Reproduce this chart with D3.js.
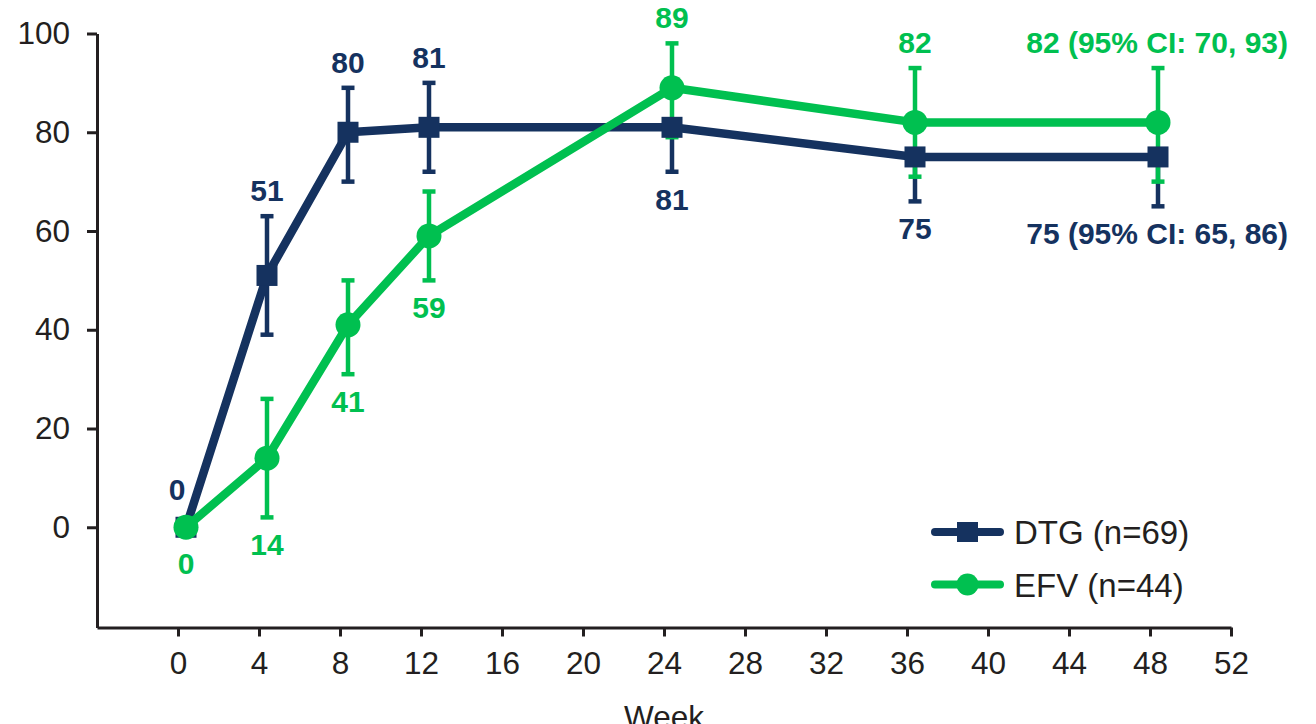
<!DOCTYPE html>
<html>
<head>
<meta charset="utf-8">
<script src="https://cdn.jsdelivr.net/npm/d3@7"></script>
<style>
  html, body { margin: 0; padding: 0; background: #fff; }
  svg { display: block; font-family: "Liberation Sans", Arial, sans-serif; }
</style>
</head>
<body>
<svg id="chart" width="1316" height="724"></svg>
<script>
// Study visits (weeks)
const weeks = [0, 4, 8, 12, 24, 36, 48];

// DTG arm: percentage with response and 95% CI bounds
const dtgValues = [0, 51, 80, 81, 81, 75, 75];
const dtgLow    = [0, 39, 70, 72, 72, 66, 65];
const dtgHigh   = [0, 63, 89, 90, 90, 86, 86];

// EFV arm
const efvValues = [0, 14, 41, 59, 89, 82, 82];
const efvLow    = [0,  2, 31, 50, 79, 71, 70];
const efvHigh   = [0, 26, 50, 68, 98, 93, 93];

// Which parts of each error bar are drawn (the overlapping halves are left out)
const dtgBarParts = ["both", "both", "both", "both", "low", "low", "low"];
const efvBarParts = ["both", "both", "both", "both", "both", "both", "both"];

// Which side of the error bar each value label sits on
const dtgLabelSide = ["above", "above", "above", "above", "below", "below", "ci-below"];
const efvLabelSide = ["below", "below", "below", "below", "above", "above", "ci-above"];

const seriesNames = ["DTG (n=69)", "EFV (n=44)"];
const xTicks = [0, 4, 8, 12, 16, 20, 24, 28, 32, 36, 40, 44, 48, 52];
const yTicks = [0, 20, 40, 60, 80, 100];
const xTitle = "Week";

const NAVY = "#15325f";
const GREEN = "#00c050";
const INK = "#231f20";

const svg = d3.select("#chart");

const x = d3.scaleLinear().domain([-4, 52]).range([97, 1231]);
const y = d3.scaleLinear().domain([-20.3, 100]).range([627.5, 33.5]);
const shift = 8; // markers sit a little right of the tick positions
const px = w => x(w) + shift;

// Axes
const yAxis = svg.append("g")
  .attr("transform", `translate(${x(-4)},0)`)
  .call(d3.axisLeft(y).tickValues(yTicks).tickSize(10).tickSizeOuter(0).tickPadding(17));
const xAxis = svg.append("g")
  .attr("transform", `translate(0,${y(-20.3)})`)
  .call(d3.axisBottom(x).tickValues(xTicks).tickSize(9).tickSizeOuter(0).tickPadding(15));

[yAxis, xAxis].forEach(a => {
  a.select(".domain").attr("stroke", INK).attr("stroke-width", 3);
  a.selectAll(".tick line").attr("stroke", INK).attr("stroke-width", 3);
  a.selectAll(".tick text").attr("fill", INK).attr("font-size", 31.5)
    .attr("font-family", "'Liberation Sans', Arial, sans-serif");
});

svg.append("text")
  .attr("x", (x(-4) + x(52)) / 2).attr("y", 728)
  .attr("text-anchor", "middle").attr("font-size", 31.5).attr("fill", INK)
  .text(xTitle);

function rows(vals, lo, hi, sides, parts) {
  return weeks.map((w, i) => ({ w, v: vals[i], lo: lo[i], hi: hi[i], side: sides[i], part: parts[i] }));
}
const dtg = rows(dtgValues, dtgLow, dtgHigh, dtgLabelSide, dtgBarParts);
const efv = rows(efvValues, efvLow, efvHigh, efvLabelSide, efvBarParts);

function errorBars(data, color) {
  const g = svg.append("g").attr("stroke", color).attr("stroke-width", 4.5);
  const withCI = data.filter(d => d.hi > d.lo);
  const upper = withCI.filter(d => d.part !== "low");
  const lower = withCI.filter(d => d.part !== "high");
  g.selectAll("line.barHi").data(upper).join("line")
    .attr("x1", d => px(d.w)).attr("x2", d => px(d.w))
    .attr("y1", d => y(d.hi)).attr("y2", d => y(d.v));
  g.selectAll("line.barLo").data(lower).join("line")
    .attr("x1", d => px(d.w)).attr("x2", d => px(d.w))
    .attr("y1", d => y(d.v)).attr("y2", d => y(d.lo));
  g.selectAll("line.capHi").data(upper).join("line")
    .attr("x1", d => px(d.w) - 6.5).attr("x2", d => px(d.w) + 6.5)
    .attr("y1", d => y(d.hi)).attr("y2", d => y(d.hi));
  g.selectAll("line.capLo").data(lower).join("line")
    .attr("x1", d => px(d.w) - 6.5).attr("x2", d => px(d.w) + 6.5)
    .attr("y1", d => y(d.lo)).attr("y2", d => y(d.lo));
}

const line = d3.line().x(d => px(d.w)).y(d => y(d.v));

function seriesLine(data, color) {
  svg.append("path").datum(data)
    .attr("d", line).attr("fill", "none").attr("stroke", color)
    .attr("stroke-width", 8.5).attr("stroke-linejoin", "round");
}

function squares(data, color) {
  svg.append("g").selectAll("rect").data(data).join("rect")
    .attr("x", d => px(d.w) - 10.5).attr("y", d => y(d.v) - 10.5)
    .attr("width", 21).attr("height", 21).attr("fill", color);
}

function circles(data, color) {
  svg.append("g").selectAll("circle").data(data).join("circle")
    .attr("cx", d => px(d.w)).attr("cy", d => y(d.v)).attr("r", 12.5).attr("fill", color);
}

function valueLabels(data, color) {
  svg.append("g").selectAll("text").data(data).join("text")
    .attr("fill", color).attr("font-size", 30).attr("font-weight", "bold")
    .attr("text-anchor", d => d.side.startsWith("ci") ? "end" : "middle")
    .attr("x", d => {
      if (d.side.startsWith("ci")) return px(d.w) + 130;
      if (d.w === 0 && d.side === "above") return px(d.w) - 9;
      return px(d.w);
    })
    .attr("y", d => {
      const noCI = d.hi === d.lo;
      if (d.side.endsWith("above")) return noCI ? y(d.v) - 27 : y(d.hi) - 15;
      return noCI ? y(d.v) + 47 : y(d.lo) + 38;
    })
    .text(d => d.side.startsWith("ci") ? `${d.v} (95% CI: ${d.lo}, ${d.hi})` : d.v);
}

// Draw order: error bars under lines, green over navy
errorBars(dtg, NAVY);
errorBars(efv, GREEN);
seriesLine(dtg, NAVY);
squares(dtg, NAVY);
seriesLine(efv, GREEN);
circles(efv, GREEN);
valueLabels(dtg, NAVY);
valueLabels(efv, GREEN);

// Legend
const legend = svg.append("g");
const legendRows = [
  { name: seriesNames[0], color: NAVY, shape: "square", cy: 532 },
  { name: seriesNames[1], color: GREEN, shape: "circle", cy: 584.5 }
];
legendRows.forEach(r => {
  legend.append("line")
    .attr("x1", 935).attr("x2", 1000).attr("y1", r.cy).attr("y2", r.cy)
    .attr("stroke", r.color).attr("stroke-width", 8).attr("stroke-linecap", "round");
  if (r.shape === "square") {
    legend.append("rect").attr("x", 957).attr("y", r.cy - 10).attr("width", 21).attr("height", 20).attr("fill", r.color);
  } else {
    legend.append("circle").attr("cx", 967.5).attr("cy", r.cy).attr("r", 11).attr("fill", r.color);
  }
  legend.append("text")
    .attr("x", 1014).attr("y", r.cy + 12)
    .attr("font-size", 33).attr("fill", INK).text(r.name);
});
</script>
</body>
</html>
